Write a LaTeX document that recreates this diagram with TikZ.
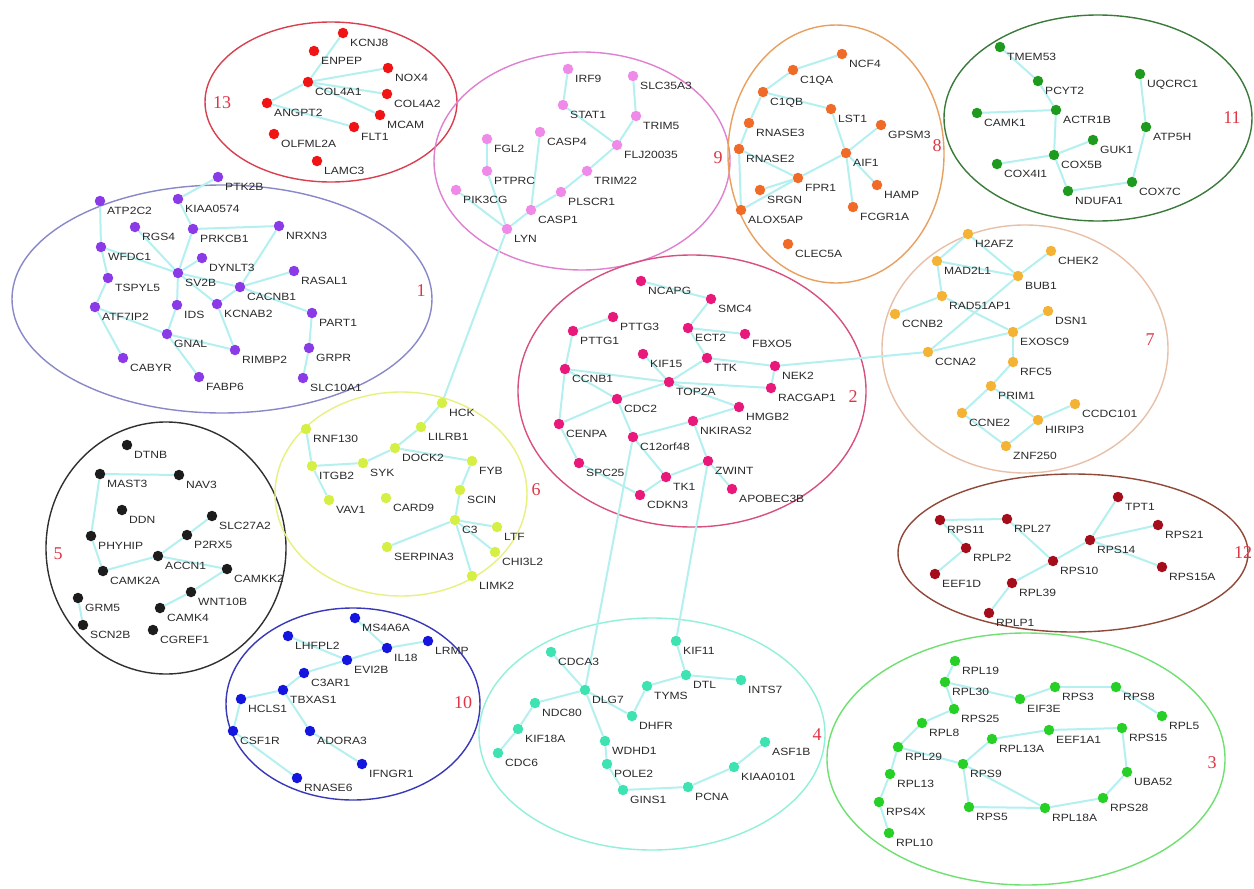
\documentclass[tikz,border=0pt]{standalone}
\usepackage{fontspec}
\setmainfont{Liberation Sans}
\newfontfamily\labfont{Liberation Sans}[FakeStretch=1.15]
\newfontfamily\numfont{Liberation Serif}
\pgfdeclarelayer{bg}
\pgfsetlayers{bg,main}
\definecolor{c13}{HTML}{F01414}
\definecolor{c9}{HTML}{F08AE8}
\definecolor{c8}{HTML}{F06A28}
\definecolor{c11}{HTML}{1E9A1E}
\definecolor{c1}{HTML}{8A3AE6}
\definecolor{c2}{HTML}{E8197A}
\definecolor{c7}{HTML}{F5B335}
\definecolor{c5}{HTML}{1C1C1C}
\definecolor{c6}{HTML}{D6EF45}
\definecolor{c12}{HTML}{A50D1A}
\definecolor{c10}{HTML}{1515E0}
\definecolor{c4}{HTML}{3DE3B0}
\definecolor{c3}{HTML}{27D027}
\definecolor{e13}{HTML}{D84050}
\definecolor{e9}{HTML}{E080D0}
\definecolor{e8}{HTML}{E8A060}
\definecolor{e11}{HTML}{3A7A3A}
\definecolor{e1}{HTML}{8888C8}
\definecolor{e2}{HTML}{D85080}
\definecolor{e7}{HTML}{E8C0A8}
\definecolor{e5}{HTML}{303030}
\definecolor{e6}{HTML}{E8F080}
\definecolor{e12}{HTML}{904838}
\definecolor{e10}{HTML}{3838B8}
\definecolor{e4}{HTML}{90F0D8}
\definecolor{e3}{HTML}{70E070}
\definecolor{edgecol}{HTML}{B4F0F0}
\definecolor{labcol}{HTML}{2A2A2A}
\definecolor{numcol}{HTML}{E03545}
\tikzset{
  gdot/.style={circle,inner sep=0pt,minimum size=10.5pt},
  glab/.style={inner sep=0pt,anchor=base west,text=labcol,font=\labfont\fontsize{10.5}{12}\selectfont},
  edge/.style={draw=edgecol,line width=2pt},
  grp/.style={line width=1.4pt},
  cnum/.style={inner sep=0pt,text=numcol,font=\numfont\fontsize{18}{20}\selectfont}
}
\newcommand\gn[3]{\node[gdot,fill=#3] (#1) at (#2) {};\node[glab] (#1-l) at ([shift={(7,13.5)}]#1.center) {#1};}
\begin{document}
\begin{tikzpicture}[x=1pt,y=-1pt]
\begin{pgfonlayer}{bg}
\fill[white] (0,0) rectangle (1254,889);
\end{pgfonlayer}
\useasboundingbox (0,0) rectangle (1254,889);
% cluster 13
\gn{KCNJ8}{343,33}{c13}
\gn{ENPEP}{314,51}{c13}
\gn{NOX4}{388,68}{c13}
\gn{COL4A1}{308,82}{c13}
\gn{COL4A2}{387,94}{c13}
\gn{ANGPT2}{267,103}{c13}
\gn{MCAM}{380,115}{c13}
\gn{FLT1}{354,127}{c13}
\gn{OLFML2A}{274,134}{c13}
\gn{LAMC3}{317,161}{c13}
% cluster 9
\gn{IRF9}{568,69}{c9}
\gn{SLC35A3}{633,76}{c9}
\gn{STAT1}{563,105}{c9}
\gn{TRIM5}{636,116}{c9}
\gn{CASP4}{540,132}{c9}
\gn{FGL2}{487,139}{c9}
\gn{FLJ20035}{617,145}{c9}
\gn{TRIM22}{587,171}{c9}
\gn{PTPRC}{487,171}{c9}
\gn{PIK3CG}{456,190}{c9}
\gn{PLSCR1}{561,192}{c9}
\gn{CASP1}{531,210}{c9}
\gn{LYN}{507,229}{c9}
% cluster 8
\gn{NCF4}{842,54}{c8}
\gn{C1QA}{793,70}{c8}
\gn{C1QB}{763,92}{c8}
\gn{LST1}{831,109}{c8}
\gn{GPSM3}{881,125}{c8}
\gn{RNASE3}{749,123}{c8}
\gn{RNASE2}{739,149}{c8}
\gn{AIF1}{846,153}{c8}
\gn{FPR1}{798,178}{c8}
\gn{HAMP}{877,185}{c8}
\gn{SRGN}{760,190}{c8}
\gn{FCGR1A}{853,207}{c8}
\gn{ALOX5AP}{741,210}{c8}
\gn{CLEC5A}{788,244}{c8}
% cluster 11
\gn{TMEM53}{1000,47}{c11}
\gn{PCYT2}{1038,81}{c11}
\gn{UQCRC1}{1140,74}{c11}
\gn{CAMK1}{977,113}{c11}
\gn{ACTR1B}{1056,110}{c11}
\gn{ATP5H}{1146,127}{c11}
\gn{GUK1}{1093,140}{c11}
\gn{COX5B}{1054,155}{c11}
\gn{COX4I1}{997,164}{c11}
\gn{COX7C}{1132,182}{c11}
\gn{NDUFA1}{1068,191}{c11}
% cluster 1
\gn{PTK2B}{218,177}{c1}
\gn{ATP2C2}{100,201}{c1}
\gn{KIAA0574}{178,199}{c1}
\gn{RGS4}{135,227}{c1}
\gn{PRKCB1}{193,229}{c1}
\gn{NRXN3}{279,226}{c1}
\gn{WFDC1}{101,247}{c1}
\gn{DYNLT3}{202,258}{c1}
\gn{RASAL1}{294,271}{c1}
\gn{TSPYL5}{108,278}{c1}
\gn{SV2B}{178,273}{c1}
\gn{CACNB1}{240,287}{c1}
\gn{ATF7IP2}{95,307}{c1}
\gn{IDS}{177,305}{c1}
\gn{KCNAB2}{217,304}{c1}
\gn{PART1}{312,313}{c1}
\gn{GNAL}{167,334}{c1}
\gn{RIMBP2}{235,350}{c1}
\gn{GRPR}{309,348}{c1}
\gn{CABYR}{123,358}{c1}
\gn{FABP6}{199,377}{c1}
\gn{SLC10A1}{303,378}{c1}
% cluster 2
\gn{NCAPG}{641,281}{c2}
\gn{SMC4}{711,299}{c2}
\gn{PTTG3}{613,317}{c2}
\gn{ECT2}{688,328}{c2}
\gn{FBXO5}{745,334}{c2}
\gn{PTTG1}{573,331}{c2}
\gn{KIF15}{643,354}{c2}
\gn{TTK}{707,358}{c2}
\gn{NEK2}{775,366}{c2}
\gn{CCNB1}{565,369}{c2}
\gn{TOP2A}{669,382}{c2}
\gn{RACGAP1}{771,388}{c2}
\gn{CDC2}{617,399}{c2}
\gn{HMGB2}{739,407}{c2}
\gn{NKIRAS2}{693,421}{c2}
\gn{CENPA}{559,424}{c2}
\gn{C12orf48}{633,437}{c2}
\gn{ZWINT}{708,461}{c2}
\gn{SPC25}{579,463}{c2}
\gn{TK1}{666,477}{c2}
\gn{APOBEC3B}{732,489}{c2}
\gn{CDKN3}{640,495}{c2}
% cluster 7
\gn{H2AFZ}{968,234}{c7}
\gn{CHEK2}{1051,251}{c7}
\gn{MAD2L1}{937,261}{c7}
\gn{BUB1}{1018,276}{c7}
\gn{RAD51AP1}{942,296}{c7}
\gn{CCNB2}{895,314}{c7}
\gn{DSN1}{1048,311}{c7}
\gn{EXOSC9}{1013,332}{c7}
\gn{CCNA2}{928,352}{c7}
\gn{RFC5}{1013,362}{c7}
\gn{PRIM1}{991,386}{c7}
\gn{CCDC101}{1075,404}{c7}
\gn{CCNE2}{962,413}{c7}
\gn{HIRIP3}{1038,420}{c7}
\gn{ZNF250}{1006,446}{c7}
% cluster 5
\gn{DTNB}{127,445}{c5}
\gn{MAST3}{100,474}{c5}
\gn{NAV3}{179,475}{c5}
\gn{DDN}{122,510}{c5}
\gn{SLC27A2}{212,516}{c5}
\gn{PHYHIP}{91,536}{c5}
\gn{P2RX5}{187,535}{c5}
\gn{ACCN1}{158,556}{c5}
\gn{CAMK2A}{103,571}{c5}
\gn{CAMKK2}{227,569}{c5}
\gn{WNT10B}{191,592}{c5}
\gn{GRM5}{78,598}{c5}
\gn{CAMK4}{160,608}{c5}
\gn{SCN2B}{83,625}{c5}
\gn{CGREF1}{153,630}{c5}
% cluster 6
\gn{HCK}{442,403}{c6}
\gn{RNF130}{306,429}{c6}
\gn{LILRB1}{421,427}{c6}
\gn{DOCK2}{395,448}{c6}
\gn{ITGB2}{312,466}{c6}
\gn{SYK}{363,463}{c6}
\gn{FYB}{472,461}{c6}
\gn{CARD9}{386,498}{c6}
\gn{VAV1}{329,500}{c6}
\gn{SCIN}{460,490}{c6}
\gn{C3}{455,520}{c6}
\gn{LTF}{497,527}{c6}
\gn{SERPINA3}{387,547}{c6}
\gn{CHI3L2}{495,552}{c6}
\gn{LIMK2}{472,576}{c6}
% cluster 12
\gn{TPT1}{1118,497}{c12}
\gn{RPS11}{940,520}{c12}
\gn{RPL27}{1007,519}{c12}
\gn{RPS21}{1158,525}{c12}
\gn{RPS14}{1090,540}{c12}
\gn{RPLP2}{966,548}{c12}
\gn{RPS10}{1053,561}{c12}
\gn{RPS15A}{1162,567}{c12}
\gn{EEF1D}{935,574}{c12}
\gn{RPL39}{1012,583}{c12}
\gn{RPLP1}{989,613}{c12}
% cluster 10
\gn{MS4A6A}{355,618}{c10}
\gn{LHFPL2}{288,636}{c10}
\gn{LRMP}{428,641}{c10}
\gn{IL18}{387,648}{c10}
\gn{EVI2B}{347,660}{c10}
\gn{C3AR1}{304,673}{c10}
\gn{TBXAS1}{283,690}{c10}
\gn{HCLS1}{241,699}{c10}
\gn{CSF1R}{233,731}{c10}
\gn{ADORA3}{310,731}{c10}
\gn{IFNGR1}{362,764}{c10}
\gn{RNASE6}{297,778}{c10}
% cluster 4
\gn{KIF11}{676,641}{c4}
\gn{CDCA3}{551,652}{c4}
\gn{DTL}{686,675}{c4}
\gn{INTS7}{741,680}{c4}
\gn{TYMS}{647,686}{c4}
\gn{DLG7}{585,690}{c4}
\gn{NDC80}{535,703}{c4}
\gn{DHFR}{632,716}{c4}
\gn{KIF18A}{518,729}{c4}
\gn{WDHD1}{605,741}{c4}
\gn{ASF1B}{765,742}{c4}
\gn{CDC6}{498,753}{c4}
\gn{POLE2}{607,764}{c4}
\gn{KIAA0101}{734,767}{c4}
\gn{GINS1}{623,790}{c4}
\gn{PCNA}{688,787}{c4}
% cluster 3
\gn{RPL19}{955,661}{c3}
\gn{RPL30}{945,682}{c3}
\gn{RPS3}{1055,687}{c3}
\gn{RPS8}{1116,687}{c3}
\gn{EIF3E}{1020,699}{c3}
\gn{RPS25}{954,709}{c3}
\gn{RPL8}{922,723}{c3}
\gn{RPL5}{1162,716}{c3}
\gn{EEF1A1}{1049,730}{c3}
\gn{RPS15}{1122,728}{c3}
\gn{RPL13A}{992,739}{c3}
\gn{RPL29}{898,747}{c3}
\gn{RPS9}{963,764}{c3}
\gn{UBA52}{1127,772}{c3}
\gn{RPL13}{890,774}{c3}
\gn{RPS28}{1103,798}{c3}
\gn{RPS4X}{879,802}{c3}
\gn{RPS5}{969,807}{c3}
\gn{RPL18A}{1045,808}{c3}
\gn{RPL10}{889,833}{c3}
% cluster numbers
\node[cnum] (n13) at (222,103) {13};
\node[cnum] (n9) at (718,158) {9};
\node[cnum] (n8) at (937,146) {8};
\node[cnum] (n11) at (1232,118) {11};
\node[cnum] (n1) at (421,291) {1};
\node[cnum] (n2) at (853,397) {2};
\node[cnum] (n7) at (1150,340) {7};
\node[cnum] (n5) at (58,554) {5};
\node[cnum] (n6) at (536,490) {6};
\node[cnum] (n12) at (1243,553) {12};
\node[cnum] (n10) at (463,703) {10};
\node[cnum] (n4) at (817,735) {4};
\node[cnum] (n3) at (1212,763) {3};
\begin{pgfonlayer}{bg}
\draw[grp,draw=e13] (331,102) ellipse [x radius=126, y radius=80];
\draw[grp,draw=e9] (582,161) ellipse [x radius=148, y radius=109];
\draw[grp,draw=e8] (836,154) ellipse [x radius=108, y radius=129];
\draw[grp,draw=e11] (1098,118) ellipse [x radius=154, y radius=103];
\draw[grp,draw=e1] (222,299) ellipse [x radius=210, y radius=114];
\draw[grp,draw=e2] (692,391) ellipse [x radius=174, y radius=136];
\draw[grp,draw=e7] (1025,349) ellipse [x radius=143, y radius=124];
\draw[grp,draw=e5] (166,548) ellipse [x radius=120, y radius=126];
\draw[grp,draw=e6] (401,494) ellipse [x radius=126, y radius=102];
\draw[grp,draw=e12] (1073,553) ellipse [x radius=175, y radius=79];
\draw[grp,draw=e10] (353,704) ellipse [x radius=127, y radius=96];
\draw[grp,draw=e4] (652,734) ellipse [x radius=173, y radius=116];
\draw[grp,draw=e3] (1026,759) ellipse [x radius=199, y radius=126];
\foreach \a/\b in {
 KCNJ8/COL4A1, COL4A1/NOX4, COL4A1/COL4A2, COL4A1/MCAM, ANGPT2/COL4A1, ANGPT2/FLT1,
 IRF9/STAT1, STAT1/FLJ20035, SLC35A3/TRIM5, TRIM5/FLJ20035, FLJ20035/TRIM22, TRIM22/PLSCR1,
 PLSCR1/CASP1, CASP1/LYN, CASP4/CASP1, FGL2/PTPRC, PTPRC/LYN, PIK3CG/LYN, LYN/HCK,
 NCF4/C1QA, C1QA/C1QB, C1QB/RNASE3, RNASE3/RNASE2, RNASE2/ALOX5AP, C1QB/LST1, LST1/AIF1,
 AIF1/GPSM3, AIF1/FCGR1A, AIF1/HAMP, AIF1/FPR1, FPR1/SRGN, FPR1/ALOX5AP, RNASE2/FPR1,
 TMEM53/PCYT2, PCYT2/ACTR1B, CAMK1/ACTR1B, ACTR1B/COX5B, COX5B/GUK1, COX5B/COX4I1,
 COX5B/NDUFA1, NDUFA1/COX7C, COX7C/ATP5H, ATP5H/UQCRC1,
 PTK2B/KIAA0574, KIAA0574/PRKCB1, PRKCB1/NRXN3, NRXN3/CACNB1, PRKCB1/SV2B, RGS4/SV2B,
 ATP2C2/WFDC1, WFDC1/TSPYL5, TSPYL5/ATF7IP2, ATF7IP2/CABYR, SV2B/CACNB1, SV2B/KCNAB2,
 DYNLT3/SV2B, CACNB1/RASAL1, CACNB1/PART1, CACNB1/KCNAB2, KCNAB2/RIMBP2, PART1/GRPR,
 GRPR/SLC10A1, SV2B/IDS, IDS/GNAL, GNAL/FABP6, GNAL/RIMBP2, SV2B/WFDC1, ATF7IP2/GNAL,
 NCAPG/SMC4, SMC4/ECT2, ECT2/FBXO5, ECT2/TTK, KIF15/TOP2A, TTK/TOP2A, TTK/NEK2,
 NEK2/RACGAP1, TOP2A/RACGAP1, TOP2A/HMGB2, TOP2A/CDC2, CDC2/CCNB1, CCNB1/PTTG1,
 PTTG1/PTTG3, CCNB1/CENPA, CENPA/SPC25, SPC25/CDKN3, CDKN3/TK1, TK1/ZWINT,
 ZWINT/APOBEC3B, ZWINT/NKIRAS2, NKIRAS2/C12orf48, C12orf48/CDC2, CDC2/CENPA,
 TK1/C12orf48, HMGB2/NKIRAS2, CCNB1/TOP2A, NEK2/CCNA2, ZWINT/KIF11, C12orf48/DLG7,
 H2AFZ/MAD2L1, MAD2L1/RAD51AP1, MAD2L1/BUB1, H2AFZ/BUB1, CHEK2/BUB1, RAD51AP1/EXOSC9,
 CCNB2/RAD51AP1, CCNA2/EXOSC9, CCNA2/BUB1, EXOSC9/DSN1, RFC5/PRIM1, PRIM1/CCNE2,
 CCNE2/ZNF250, ZNF250/HIRIP3, HIRIP3/CCDC101, PRIM1/HIRIP3, EXOSC9/RFC5,
 MAST3/NAV3, MAST3/PHYHIP, PHYHIP/CAMK2A, CAMK2A/ACCN1, ACCN1/P2RX5, P2RX5/SLC27A2,
 ACCN1/CAMKK2, WNT10B/CAMK4, CAMKK2/WNT10B, GRM5/SCN2B,
 HCK/LILRB1, LILRB1/DOCK2, DOCK2/SYK, SYK/ITGB2, ITGB2/RNF130, ITGB2/VAV1, DOCK2/FYB,
 FYB/SCIN, SCIN/C3, C3/LTF, C3/CHI3L2, C3/SERPINA3, C3/LIMK2,
 RPS11/RPL27, RPS11/RPLP2, RPL27/RPS10, RPS10/RPS14, RPS14/TPT1, RPS14/RPS21,
 RPS14/RPS15A, RPS10/RPL39, RPL39/RPLP1, EEF1D/RPLP2,
 LHFPL2/EVI2B, EVI2B/IL18, IL18/LRMP, MS4A6A/IL18, EVI2B/C3AR1, C3AR1/TBXAS1,
 TBXAS1/HCLS1, HCLS1/CSF1R, TBXAS1/ADORA3, CSF1R/RNASE6, ADORA3/IFNGR1,
 KIF11/DTL, DTL/INTS7, DTL/TYMS, TYMS/DHFR, DLG7/DHFR, DLG7/CDCA3, DLG7/NDC80,
 NDC80/KIF18A, KIF18A/CDC6, DLG7/WDHD1, WDHD1/POLE2, POLE2/GINS1, GINS1/PCNA,
 PCNA/KIAA0101, KIAA0101/ASF1B,
 RPL19/RPL30, RPL30/RPS25, RPL30/EIF3E, EIF3E/RPS3, RPS3/RPS8, RPS8/RPL5, RPS25/RPL8,
 RPL8/RPL29, RPL29/RPL13, RPL13/RPS4X, RPS4X/RPL10, RPL29/RPS9, RPS9/RPL13A,
 RPL13A/EEF1A1, EEF1A1/RPS15, RPS15/UBA52, UBA52/RPS28, RPS28/RPL18A, RPL18A/RPS9,
 RPS9/RPS5, RPS5/RPL18A}
 \draw[edge] (\a) -- (\b);
\end{pgfonlayer}
\end{tikzpicture}
\end{document}
